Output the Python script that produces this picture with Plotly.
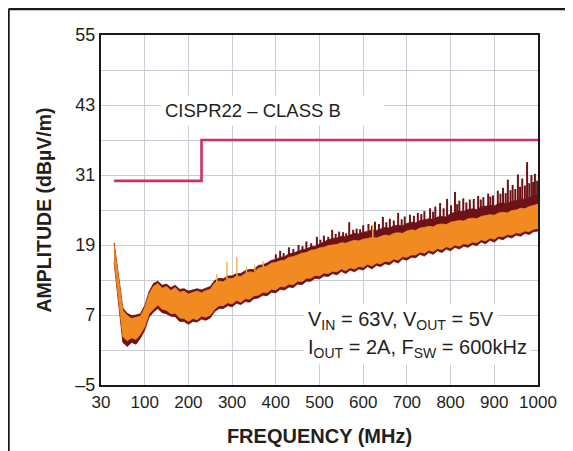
import plotly.graph_objects as go

# ---------------- data ----------------
freq_mhz = list(range(30, 1001, 10))  # 10 MHz sampling grid, 30..1000 MHz

# average-detector band (orange): upper / lower envelope, dBuV/m
avg_hi = [19.0, 13.0, 7.8, 6.9, 6.4, 6.6, 6.8, 8.2, 10.6, 11.9,
          12.4, 11.6, 11.9, 11.2, 11.7, 10.9, 11.1, 10.6, 10.9, 11.1,
          10.8, 11.2, 11.4, 12.5, 12.8, 12.7, 13.3, 13.2, 13.7, 13.6,
          14.1, 14.4, 14.3, 15.0, 15.2, 15.4, 15.9, 16.0, 16.3, 16.4,
          16.9, 17.0, 17.3, 17.6, 17.7, 18.1, 18.2, 18.5, 18.6, 18.9,
          19.0, 19.1, 19.4, 19.3, 19.6, 19.8, 19.7, 20.0, 20.1, 20.3,
          20.2, 20.5, 20.7, 20.6, 21.0, 21.1, 21.0, 21.4, 21.6, 21.5,
          21.9, 22.0, 22.2, 22.1, 22.5, 22.6, 22.5, 22.9, 23.0, 23.2,
          23.1, 23.5, 23.6, 23.5, 23.9, 24.0, 24.2, 24.1, 24.5, 24.6,
          24.5, 24.9, 25.0, 25.3, 25.2, 25.6, 25.8, 26.0]
avg_lo = [16.5, 9.5, 3.3, 2.6, 3.1, 2.8, 3.7, 5.0, 7.2, 8.0,
          8.7, 8.0, 7.8, 7.2, 7.3, 6.5, 6.4, 5.9, 6.4, 6.2,
          6.8, 6.6, 7.0, 8.0, 8.6, 8.6, 9.1, 8.9, 9.5, 9.2,
          9.8, 9.7, 10.3, 10.4, 10.9, 10.8, 11.4, 11.3, 11.9, 11.8,
          12.3, 12.2, 12.8, 12.7, 13.3, 13.3, 13.8, 13.7, 14.2, 14.1,
          14.5, 14.4, 14.9, 14.6, 15.1, 14.9, 15.3, 15.2, 15.7, 15.4,
          15.9, 15.8, 16.2, 16.1, 16.6, 16.4, 17.0, 16.9, 17.3, 17.3,
          17.8, 17.6, 18.1, 17.9, 18.4, 18.2, 18.7, 18.5, 19.0, 18.8,
          19.2, 19.1, 19.5, 19.4, 19.9, 19.7, 20.2, 20.0, 20.5, 20.4,
          20.8, 20.7, 21.1, 21.0, 21.4, 21.3, 21.7, 21.8]

# peak-detector band (dark red): upper / lower envelope, dBuV/m
pk_hi = [19.4, 13.4, 8.2, 7.3, 6.9, 7.0, 7.2, 8.6, 11.0, 12.4,
         12.8, 12.1, 12.3, 11.7, 12.1, 11.4, 11.5, 11.1, 11.3, 11.5,
         11.3, 11.6, 11.9, 12.9, 13.3, 13.2, 13.7, 13.7, 14.1, 14.1,
         14.6, 14.8, 14.8, 15.5, 15.6, 15.9, 16.4, 16.5, 16.9, 17.0,
         17.5, 17.6, 17.9, 18.2, 18.3, 18.7, 18.8, 19.2, 19.6, 19.9,
         20.1, 20.2, 20.5, 20.4, 20.7, 21.0, 20.9, 21.2, 21.3, 21.6,
         21.5, 21.8, 22.0, 21.9, 22.3, 22.4, 22.3, 22.7, 22.9, 22.8,
         23.2, 23.3, 23.5, 23.4, 23.8, 23.9, 23.8, 24.4, 24.6, 24.8,
         24.7, 25.1, 25.2, 25.1, 25.5, 25.6, 25.8, 25.7, 26.1, 26.2,
         26.1, 26.5, 26.6, 26.9, 26.8, 27.2, 27.4, 27.6]
pk_lo = [16.0, 9.0, 2.3, 1.6, 2.3, 2.0, 3.0, 4.4, 6.6, 7.5,
         8.1, 7.4, 7.2, 6.8, 6.7, 5.9, 5.9, 5.4, 5.9, 5.8,
         6.3, 6.1, 6.5, 7.6, 8.1, 8.1, 8.6, 8.4, 9.0, 8.8,
         9.3, 9.2, 9.8, 9.9, 10.4, 10.3, 10.9, 10.8, 11.4, 11.3,
         11.8, 11.7, 12.3, 12.2, 12.8, 12.8, 13.3, 13.2, 13.7, 13.6,
         14.1, 13.9, 14.5, 14.1, 14.7, 14.4, 14.9, 14.7, 15.3, 14.9,
         15.5, 15.3, 15.8, 15.6, 16.2, 15.9, 16.6, 16.4, 16.9, 16.8,
         17.4, 17.1, 17.7, 17.4, 18.0, 17.7, 18.3, 18.0, 18.6, 18.3,
         18.8, 18.6, 19.1, 18.9, 19.5, 19.2, 19.8, 19.5, 20.1, 19.9,
         20.4, 20.2, 20.7, 20.5, 21.0, 20.8, 21.3, 21.4]

# narrow peak-detector spikes: frequency, base level, top level
spike_f = [400, 410, 418, 430, 440, 452, 461, 470, 481, 494, 502, 510, 520,
           529, 537, 545, 554, 561, 568, 577, 585, 593, 600, 612, 620, 627,
           636, 645, 653, 661, 670, 680, 688, 695, 707, 716, 725, 733, 740,
           753, 760, 765, 776, 784, 792, 801, 810, 815, 820, 829, 836, 844,
           853, 863, 869, 875, 886, 891, 897, 908, 914, 920, 926, 931, 937,
           942, 948, 954, 959, 964, 970, 975, 980, 985, 989, 993, 998]
spike_lo = [16.0, 16.3, 16.4, 16.9, 17.0, 17.3, 17.6, 17.7, 18.1, 18.3, 18.5,
            18.6, 18.9, 19.0, 19.1, 19.3, 19.4, 19.3, 19.6, 19.8, 19.7, 19.8,
            20.0, 20.1, 20.3, 20.2, 20.4, 20.6, 20.7, 20.6, 21.0, 21.1, 21.0,
            21.2, 21.5, 21.6, 21.6, 21.9, 22.0, 22.2, 22.1, 22.3, 22.5, 22.6,
            22.6, 22.9, 23.0, 23.1, 23.2, 23.1, 23.3, 23.5, 23.6, 23.6, 23.8,
            23.9, 24.1, 24.2, 24.2, 24.4, 24.5, 24.6, 24.6, 24.5, 24.7, 24.9,
            25.0, 25.1, 25.3, 25.3, 25.2, 25.4, 25.6, 25.7, 25.8, 25.9, 26.0]
spike_hi = [17.4, 18.0, 17.6, 18.6, 18.3, 19.0, 18.8, 19.6, 19.3, 20.4, 19.9,
            20.6, 20.4, 21.6, 20.9, 21.3, 21.2, 21.0, 22.9, 21.6, 21.8, 21.7,
            22.4, 22.6, 22.3, 23.0, 22.6, 23.8, 22.9, 23.5, 23.2, 24.5, 23.4,
            23.9, 24.2, 24.0, 24.5, 24.3, 24.8, 25.3, 24.7, 25.6, 26.2, 25.3,
            26.9, 25.8, 28.1, 26.0, 26.6, 27.0, 26.3, 26.8, 26.9, 27.4, 26.8,
            27.2, 27.8, 27.3, 27.5, 28.3, 27.8, 28.8, 27.9, 30.2, 28.4, 29.3,
            28.6, 31.1, 29.0, 30.4, 29.2, 33.2, 29.6, 31.0, 29.8, 31.2, 30.0]

# narrow average-detector spikes
avg_spike_f = [265, 288, 311, 333, 352, 371, 622]
avg_spike_lo = [12.5, 13.2, 13.7, 14.2, 14.5, 15.2, 20.3]
avg_spike_hi = [14.0, 16.1, 17.0, 15.2, 15.5, 16.2, 22.5]

# CISPR22 class B limit
limit_f = [30, 230, 1000]
limit_db = [30, 37, 37]

# axes
x_tickvals = [0, 100, 200, 300, 400, 500, 600, 700, 800, 900, 1000]
x_ticktext = ["30", "100", "200", "300", "400", "500", "600", "700", "800", "900", "1000"]
y_tickvals = [-5, 1, 7, 13, 19, 25, 31, 37, 43, 49, 55]
y_ticktext = ["\u20135", "", "7", "", "19", "", "31", "", "43", "", "55"]

# ---------------- styling ----------------
FONT = "Liberation Sans, Arial, Helvetica, sans-serif"
TXT = "#231f20"
DARK = "#6d1216"
ORANGE = "#f28a22"
PINK = "#cf2f69"
GRID = "#c9ced6"


def segments(xs, lo, hi):
    sx, sy = [], []
    for f, a, b in zip(xs, lo, hi):
        sx += [f, f, None]
        sy += [a, b, None]
    return sx, sy


fig = go.Figure()

# peak band
fig.add_trace(go.Scatter(x=freq_mhz, y=pk_lo, mode="lines",
                         line=dict(color=DARK, width=0.8), hoverinfo="skip"))
fig.add_trace(go.Scatter(x=freq_mhz, y=pk_hi, mode="lines", fill="tonexty",
                         fillcolor=DARK, line=dict(color=DARK, width=0.8),
                         hoverinfo="skip"))
sx, sy = segments(spike_f, spike_lo, spike_hi)
fig.add_trace(go.Scatter(x=sx, y=sy, mode="lines",
                         line=dict(color=DARK, width=2.0), hoverinfo="skip"))

# average band
fig.add_trace(go.Scatter(x=freq_mhz, y=avg_lo, mode="lines",
                         line=dict(color=ORANGE, width=0.8), hoverinfo="skip"))
fig.add_trace(go.Scatter(x=freq_mhz, y=avg_hi, mode="lines", fill="tonexty",
                         fillcolor=ORANGE, line=dict(color=ORANGE, width=0.8),
                         hoverinfo="skip"))
ax, ay = segments(avg_spike_f, avg_spike_lo, avg_spike_hi)
fig.add_trace(go.Scatter(x=ax, y=ay, mode="lines",
                         line=dict(color="#f5b04a", width=1.4), hoverinfo="skip"))

# limit line
fig.add_trace(go.Scatter(x=limit_f, y=limit_db, mode="lines",
                         line=dict(color=PINK, width=2.6, shape="hv"),
                         hoverinfo="skip"))

fig.update_layout(
    width=573, height=451,
    margin=dict(l=93, r=43, t=27, b=74, autoexpand=False),
    paper_bgcolor="white", plot_bgcolor="white",
    showlegend=False,
    font=dict(family=FONT, color=TXT, size=17),
    xaxis=dict(range=[0, 1000], tickvals=x_tickvals, ticktext=x_ticktext,
               showgrid=True, gridcolor=GRID, gridwidth=1.3,
               showline=True, linecolor="#1a1a1a", linewidth=2.2, mirror=True,
               ticks="", zeroline=False, tickfont=dict(size=17),
               title=dict(text="<b>FREQUENCY (MHz)</b>", font=dict(size=20),
                          standoff=18)),
    yaxis=dict(range=[-5, 55], tickvals=y_tickvals, ticktext=y_ticktext,
               showgrid=True, gridcolor=GRID, gridwidth=1.3,
               showline=True, linecolor="#1a1a1a", linewidth=2.2, mirror=True,
               ticks="", zeroline=False, tickfont=dict(size=18),
               title=dict(text="<b>AMPLITUDE (dB\u00b5V/m)</b>",
                          font=dict(size=19.5), standoff=18)),
    annotations=[
        dict(x=0.135, y=42.1, xref="paper", yref="y", xanchor="left",
             yanchor="middle", text="CISPR22 \u2013 CLASS B", showarrow=False,
             font=dict(size=18.5, color=TXT), bgcolor="white", align="left",
             width=215, borderpad=4),
        dict(x=0.465, y=3.3, xref="paper", yref="y", xanchor="left",
             yanchor="bottom",
             text="V<sub>IN</sub> = 63V, V<sub>OUT</sub> = 5V",
             showarrow=False, font=dict(size=20, color=TXT), bgcolor="white",
             align="left", borderpad=3),
        dict(x=0.465, y=-1.5, xref="paper", yref="y", xanchor="left",
             yanchor="bottom",
             text="I<sub>OUT</sub> = 2A, F<sub>SW</sub> = 600kHz",
             showarrow=False, font=dict(size=20, color=TXT), bgcolor="white",
             align="left", borderpad=3),
    ],
    shapes=[
        dict(type="line", xref="paper", yref="paper", x0=-0.2117, x1=-0.2117,
             y0=1.0743, y1=-0.3, line=dict(color="#1a1a1a", width=2.5)),
        dict(type="line", xref="paper", yref="paper", x0=-0.2117, x1=1.2,
             y0=1.0743, y1=1.0743, line=dict(color="#1a1a1a", width=2.5)),
    ],
)

fig.write_html("out.html")
